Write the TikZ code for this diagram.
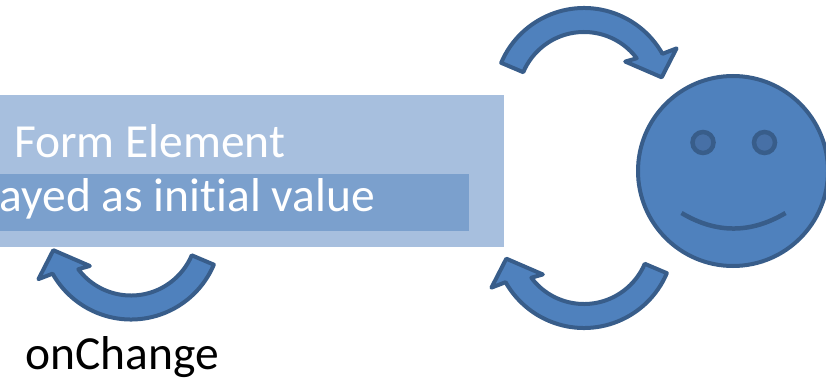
\documentclass[tikz,border=0pt]{standalone}
\usepackage{fontspec}
\setmainfont{Carlito}[Ligatures=NoCommon]
\usetikzlibrary{positioning}
\definecolor{panel}{HTML}{A7BFDE}
\definecolor{band}{HTML}{7BA0CD}
\definecolor{accent}{HTML}{4F81BD}
\definecolor{rim}{HTML}{385D8A}
\definecolor{pupil}{HTML}{4770A6}

\begin{document}
\begin{tikzpicture}[x=1pt, y=1pt,
  caption/.style={font=\fontsize{47.5}{56}\selectfont, inner sep=0pt},
  eye/.style={circle, draw=rim, fill=pupil, line width=4.5pt, minimum size=21pt, inner sep=0pt},
  turn/.pic={
    \draw[line width=4pt, draw=rim, fill=accent, line join=round]
      (157:90pt) arc[start angle=157, end angle=29.4, radius=90pt]
      -- (28.2:105pt) -- (14.9:80.4pt) -- (41.5:55pt) -- (37:66pt)
      arc[start angle=37, end angle=157, radius=66pt] -- cycle;
  }]
\useasboundingbox (0,0) rectangle (826,381);
\clip (0,0) rectangle (826,381);
% form element
\fill[panel] (-10,134.5) rectangle (504,286);
\fill[band] (-10,150) rectangle (469,207.5);
\node[caption, text=white, anchor=base west] (title) at (14,223.5) {Form Element};
\node[caption, text=white, anchor=base east] (value) at (375,170) {ayed as initial value};
% turn arrows
\pic at (584,283) {turn};
\pic[rotate=180] at (584,143) {turn};
\pic[rotate=180] at (131,151.5) {turn};
\node[caption, anchor=base west] (change) at (25,12) {onChange};
% user
\node[circle, draw=rim, fill=accent, line width=4pt, minimum size=190pt] (face) at (733,210) {};
\node[eye, above left=28.5pt and 30pt of face.center, anchor=center] (eyeL) {};
\node[eye, above right=28.5pt and 31.5pt of face.center, anchor=center] (eyeR) {};
\draw[rim, line width=4.5pt] ([shift={(-51.5,-42)}]face.center)
  .. controls ([shift={(-16.8,-62.7)}]face.center) and ([shift={(17.8,-62.7)}]face.center)
  .. ([shift={(52.5,-42)}]face.center);
\end{tikzpicture}
\end{document}
